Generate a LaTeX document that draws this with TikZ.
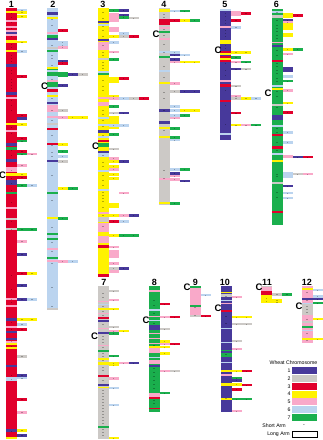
\documentclass[tikz,border=0pt]{standalone}
\usepackage{fontspec}
\setmainfont{Liberation Sans}
\definecolor{k1}{HTML}{47399B}
\definecolor{k2}{HTML}{CCC9C6}
\definecolor{k3}{HTML}{E1002C}
\definecolor{k4}{HTML}{FFF200}
\definecolor{k5}{HTML}{F9A9C9}
\definecolor{k6}{HTML}{BBD4EF}
\definecolor{k7}{HTML}{1AAF4D}
\tikzset{
  mk/.style={fill=black,fill opacity=0.28},
  lab/.style={font=\fontsize{9}{9}\selectfont\bfseries,inner sep=0pt},
  cen/.style={font=\fontsize{9.5}{9.5}\selectfont\bfseries,inner sep=0pt},
  leg/.style={font=\fontsize{5.2}{6}\selectfont,inner sep=0pt}
}
\def\chw{10.5}
\newcommand\cbd[3]{\fill[#3] (0,#1) rectangle (\chw,{#1+#2});}
\newcommand\csd[3]{\fill[#3] ({\chw+10*(#1-1)},#2) rectangle ({\chw+10*#1},{#2+2.5});
  \fill[mk] ({\chw+10*#1-5.8},{#2+1}) rectangle ({\chw+10*#1-4.2},{#2+1.6});}
\newcommand\csb[3]{\fill[#3] (\chw,#1) rectangle ({\chw+10},#2);}
\newcommand\ctk[1]{\fill[mk] ({\chw/2-0.8},#1) rectangle ({\chw/2+0.8},{#1+0.6});}
\newcommand\ctks[1]{\foreach \t in {#1}{\ctk{\t}}}
\begin{document}
\begin{tikzpicture}[x=1pt,y=-1pt]
\useasboundingbox (0,0) rectangle (323,440);
\fill[white] (0,0) rectangle (323,440);
% ---------------- chromosome 1
\begin{scope}[shift={(6,0)}]
\def\chw{11}
\fill[k3] (0,8) rectangle (\chw,439);
\csd{1}{8.5}{k6}
\cbd{11}{2}{k4}\csd{1}{11}{k4}
\csd{1}{15}{k4}
\cbd{20}{1.5}{k5}\cbd{26}{1.5}{k5}
\cbd{30}{2}{k5}\cbd{32}{2}{k1}\cbd{34}{1.5}{k5}
\cbd{40}{2.5}{k4}\csd{1}{40.5}{k4}
\cbd{50}{2}{k4}\csd{1}{50}{k6}
\cbd{64}{3}{k1}
\csd{1}{75}{k3}
\cbd{92}{3}{k1}\cbd{97}{1.5}{k5}
\csd{1}{114}{k3}\csb{116.5}{120}{k1}
\cbd{123}{2}{k4}\csd{1}{123}{k4}
\cbd{130}{1.5}{k5}
\csd{1}{137}{k3}\csd{1}{139.5}{k7}
\cbd{143}{3}{k1}\cbd{147}{2.5}{k7}
\csd{1}{150}{k3}\csd{1}{152.5}{k7}\csd{2}{152.5}{k5}
\cbd{159}{3}{k1}
\csd{1}{164}{k5}
\cbd{167}{5}{k5}
\cbd{173}{3}{k4}\csd{1}{173}{k4}
\cbd{176}{2.5}{k3}\csd{1}{176}{k3}
\cbd{180}{5}{k1}\csd{1}{184}{k7}\csd{2}{184}{k6}
\cbd{192}{2}{k7}
\cbd{207}{1.5}{k5}\cbd{218}{1.5}{k2}
\cbd{228}{2}{k2}\csd{1}{228}{k7}\csd{2}{228}{k7}
\csd{1}{240}{k5}\csd{1}{253}{k1}
\csd{1}{272}{k3}\csd{2}{272}{k4}
\csd{1}{284}{k1}
\cbd{298}{2}{k5}\csd{1}{298}{k1}\csd{2}{298}{k6}
\cbd{305}{1.5}{k5}
\cbd{318}{2.5}{k1}\csd{1}{318}{k4}\csd{2}{318}{k4}
\csd{1}{323}{k6}
\cbd{326}{1.5}{k5}\csd{1}{328}{k3}
\cbd{331}{2}{k1}
\cbd{338}{2}{k1}\cbd{341}{1.5}{k5}\cbd{343}{2}{k4}\cbd{347}{2}{k4}
\csd{1}{355}{k2}
\cbd{365}{2}{k1}
\csd{1}{374}{k1}\csd{1}{376.5}{k6}
\cbd{377}{4}{k6}
\csd{1}{398}{k3}\csd{1}{411}{k5}
\cbd{429}{2.5}{k1}\csd{1}{429}{k4}
\csd{1}{434}{k1}
\cbd{437}{2}{k4}
\ctks{13,17,22,28,36,44,47,55,58,61,70,73,79,82,85,88,100,105,110,127,133,150,155,170,178,183,190,202,221,229,275,289,299,302,322,329,341,346,375,379,431}
\end{scope}
\node[lab] (n1) at (11.5,4.5) {1};
\node[cen] (c1) at (2.5,175) {C};
% ---------------- chromosome 2
\begin{scope}[shift={(47,0)}]
\fill[k6] (0,8) rectangle (\chw,310);
\cbd{12}{3}{k1}\cbd{17}{1.5}{k4}
\csd{1}{29}{k3}
\cbd{32}{1.5}{k5}
\cbd{35}{2.5}{k7}\cbd{37.5}{2.5}{k1}
\csd{1}{41}{k6}\csd{1}{43.5}{k6}\csd{1}{46}{k5}
\cbd{47}{1.5}{k2}\cbd{50}{2}{k7}
\csd{1}{60}{k1}\csd{1}{62}{k3}
\cbd{67}{1.5}{k4}\cbd{68.5}{1.5}{k7}
\cbd{72}{4}{k7}\csb{72}{77}{k7}\csd{2}{73}{k1}\csd{3}{73}{k2}
\cbd{80}{1.5}{k5}
\cbd{82}{5}{k7}\csd{1}{84}{k1}
\cbd{89}{3}{k3}\cbd{95}{1.5}{k4}
\cbd{102}{2}{k1}
\cbd{105}{7}{k5}\csd{1}{109}{k2}
\cbd{116}{1.5}{k5}\csd{1}{116}{k5}\csd{2}{116}{k4}\csd{3}{116}{k4}
\cbd{123}{1.5}{k2}\cbd{128}{2}{k3}
\cbd{143}{2}{k3}\csd{1}{143}{k4}
\csd{1}{150}{k7}\csd{1}{155}{k6}
\cbd{160}{2}{k1}\csd{1}{160}{k2}
\csd{1}{187}{k4}\csd{2}{187}{k7}
\cbd{192}{2}{k7}
\cbd{217}{2}{k4}\csd{1}{217}{k7}
\cbd{233}{2}{k7}\cbd{238}{2}{k7}
\cbd{248}{2}{k5}\cbd{257}{2}{k7}
\cbd{260}{2}{k5}\csd{1}{260}{k5}\csd{2}{260}{k6}
\cbd{308}{2}{k2}
\ctks{19,25,45,55,58,65,79,98,110,120,135,145,152,156,175,200,227,242,251,263,287,306}
\end{scope}
\node[lab] (n2) at (53,4.5) {2};
\node[cen] (c2) at (44.5,86.5) {C};
% ---------------- chromosome 3
\begin{scope}[shift={(98,0)}]
\fill[k4] (0,8) rectangle (\chw,277);
\csd{1}{9}{k7}\csd{2}{9}{k1}
\csb{13}{22}{k5}\csd{2}{13.5}{k1}\csd{2}{16}{k7}\csd{3}{16.5}{k2}
\cbd{21}{2}{k1}\cbd{24}{1.5}{k6}
\csb{27}{32}{k5}\csd{2}{32}{k6}
\csd{1}{35}{k4}\csd{2}{35}{k2}\csd{3}{35}{k3}
\cbd{39}{2}{k1}
\cbd{42}{8}{k5}\csd{1}{41}{k6}
\csd{1}{50.5}{k5}
\cbd{58}{1.5}{k2}\csd{1}{58}{k7}
\cbd{71}{1.5}{k6}\cbd{73}{2}{k7}
\csb{77}{83}{k4}\csd{2}{77}{k3}
\csd{1}{95}{k4}
\cbd{97}{2}{k5}\csd{1}{97}{k5}\csd{2}{97}{k6}\csd{3}{97}{k2}\csd{4}{97}{k3}
\cbd{102}{3.5}{k5}\csd{1}{105}{k7}
\csd{1}{111.5}{k2}\csd{2}{111.5}{k1}
\csb{116}{129}{k4}
\cbd{117}{1.5}{k6}
\cbd{124}{1.5}{k6}\csd{1}{124}{k6}\csd{2}{124}{k6}
\cbd{130}{3}{k1}\csd{1}{133}{k7}
\cbd{136}{1.5}{k6}
\cbd{140}{2}{k3}\cbd{143}{4}{k7}
\csd{1}{147.5}{k2}
\cbd{151}{2}{k1}\cbd{153}{4}{k6}
\csd{1}{157}{k5}
\csd{1}{160}{k4}\csd{2}{160}{k1}
\csd{1}{165}{k4}\csd{1}{168}{k5}
\cbd{170}{1.5}{k6}
\csd{1}{173}{k4}\csd{1}{177}{k4}
\cbd{189}{1.5}{k6}\csd{2}{191.5}{k5}
\csb{203}{208}{k4}
\cbd{212}{2}{k5}
\csd{1}{214}{k4}\csd{2}{214}{k5}\csd{3}{214}{k1}
\cbd{217}{5}{k2}\csd{1}{220}{k3}\csd{2}{220}{k6}
\cbd{223}{9}{k5}
\cbd{234}{2}{k4}\csd{1}{234}{k4}\csd{2}{234}{k7}\csd{3}{234}{k7}
\cbd{236}{7}{k5}
\cbd{245}{2.5}{k3}\csd{1}{245.5}{k5}
\csb{250}{258}{k5}
\csd{1}{262}{k5}
\csd{1}{267}{k2}\csd{2}{267}{k1}
\csb{269.5}{273}{k5}
\cbd{274}{3}{k3}
\ctks{12,18,26,30,36,45,52,55,62,65,68,80,86,90,110,114,120,126,135,155,162,166,175,180,185,192,195,198,201,207,215,226}
\end{scope}
\node[lab] (n3) at (103,4.5) {3};
\node[cen] (c3) at (95.5,146.5) {C};
% ---------------- chromosome 4
\begin{scope}[shift={(159,0)}]
\fill[k2] (0,8) rectangle (\chw,205);
\cbd{9}{2.5}{k4}\csd{1}{9.5}{k6}\csd{2}{9.5}{k7}
\cbd{19}{6}{k3}\csd{1}{19}{k3}\csd{2}{19}{k4}\csd{3}{19}{k7}
\cbd{27}{1.5}{k5}\cbd{31}{2}{k7}\cbd{38}{1.5}{k5}
\cbd{51}{1.5}{k6}\csd{1}{51}{k6}
\csd{1}{53.5}{k1}\csd{2}{53.5}{k6}
\cbd{56}{2}{k7}
\csd{1}{58}{k1}\csd{1}{60.5}{k5}\csd{2}{60.5}{k4}\csd{3}{60.5}{k4}
\cbd{70}{1.5}{k6}
\cbd{82}{2}{k4}\csd{1}{82}{k5}
\csd{1}{90}{k2}\csd{2}{90}{k1}\csd{3}{90}{k1}
\csd{1}{105}{k6}
\cbd{109}{2.5}{k1}\csd{1}{109}{k6}\csd{2}{109}{k4}\csd{3}{109}{k4}
\csd{1}{114}{k6}\csd{2}{114}{k7}\csd{1}{116.5}{k5}
\cbd{121}{2.5}{k1}
\cbd{127}{2}{k4}\csd{1}{127}{k7}
\cbd{136}{2}{k4}\csd{1}{136}{k7}\csd{1}{138.5}{k6}
\csd{1}{168}{k6}\csd{2}{168}{k7}
\csd{1}{172}{k1}\csd{1}{174.5}{k5}
\cbd{178}{1.5}{k5}\csd{1}{178}{k5}\csd{2}{179.5}{k1}
\cbd{202}{2}{k4}\csd{1}{202}{k7}
\ctks{14,17,29,35,44,52,66,77,92,98,110,130,170,178}
\end{scope}
\node[lab] (n4) at (164,4.5) {4};
\node[cen] (c4) at (156,34) {C};
% ---------------- chromosome 5
\begin{scope}[shift={(220,0)}]
\def\chw{11}
\fill[k1] (0,9) rectangle (\chw,140);
\cbd{9}{2}{k6}
\csb{11}{16}{k5}\csd{2}{12}{k3}
\csd{1}{19}{k3}
\cbd{26}{1.5}{k5}\csd{1}{26}{k6}
\cbd{40}{1.5}{k4}\cbd{42}{1.5}{k4}
\cbd{51}{2}{k3}\csd{1}{51}{k4}\csd{2}{51}{k4}
\cbd{53}{1.5}{k4}
\cbd{55.5}{2}{k3}\csd{1}{56}{k7}
\cbd{58}{1.5}{k4}
\cbd{60}{2}{k3}\csd{1}{60.5}{k5}\csd{2}{60.5}{k7}
\csd{1}{67.5}{k1}\csd{2}{67.5}{k2}
\cbd{80}{1.5}{k5}
\cbd{84}{2.5}{k3}\csd{1}{84.5}{k2}
\csd{1}{94.5}{k5}\csd{1}{97}{k2}\csd{2}{97}{k4}\csd{3}{97}{k6}
\cbd{99.5}{2}{k3}
\csd{1}{111.5}{k3}
\csd{1}{123.5}{k4}\csd{2}{123.5}{k5}\csd{3}{123.5}{k7}
\cbd{133}{1.5}{k6}
\ctks{13,16,20,23,30,33,36,45,48,63,70,75,90,105,124}
\end{scope}
\node[lab] (n5) at (225,4.5) {5};
\node[cen] (c5) at (218,50.5) {C};
% ---------------- chromosome 6
\begin{scope}[shift={(272,0)}]
\fill[k7] (0,9) rectangle (\chw,225);
\cbd{11}{1.5}{k6}\cbd{15}{3}{k2}
\csb{13}{18}{k4}\csd{2}{14}{k3}
\csd{1}{19}{k1}\csd{1}{21}{k5}
\csb{23}{30}{k4}\csb{33}{37}{k4}
\cbd{41.5}{1.5}{k5}\cbd{44.5}{2}{k1}
\csd{1}{48}{k4}\csd{2}{48}{k7}
\csd{1}{52.5}{k5}
\cbd{60}{2}{k3}
\csb{67}{72}{k1}
\csb{75}{78}{k6}\csd{1}{79.5}{k7}
\cbd{85}{1.5}{k6}
\cbd{88}{1.5}{k4}\csd{1}{89}{k5}
\csd{1}{101.5}{k4}
\cbd{104}{1.5}{k2}
\csd{1}{111}{k3}
\cbd{115}{5}{k1}
\cbd{125}{1.5}{k6}
\csd{1}{131}{k6}
\cbd{133.5}{2}{k3}
\csd{1}{141}{k6}
\cbd{146}{2.5}{k3}
\cbd{153}{1.5}{k6}
\csb{155}{158}{k5}\csd{2}{155.5}{k1}\csd{3}{155.5}{k3}
\cbd{160}{1.5}{k4}
\csb{172}{178}{k6}\csd{2}{172.5}{k2}\csd{3}{172.5}{k5}
\cbd{182}{1.5}{k2}
\csd{1}{184.5}{k1}
\csd{1}{191.5}{k6}\csd{1}{196.5}{k6}
\cbd{211}{2}{k3}
\ctks{12,20,25,28,31,35,38,50,55,63,66,70,73,78,81,91,96,107,128,132,142,150,174,176,192,197}
\end{scope}
\node[lab] (n6) at (276.5,4.5) {6};
\node[cen] (c6) at (268,93.5) {C};
% ---------------- chromosome 7
\begin{scope}[shift={(98,0)}]
\fill[k2] (0,286) rectangle (\chw,439);
\csd{1}{289.5}{k2}
\csd{1}{298.5}{k5}\cbd{300.5}{1.5}{k5}
\cbd{303.5}{1.5}{k6}
\cbd{307.5}{2}{k4}\csd{1}{307.5}{k4}
\cbd{312.5}{1.5}{k5}
\cbd{317}{2}{k3}\cbd{319.5}{2.5}{k1}
\csd{1}{325.5}{k2}
\cbd{327.5}{1.5}{k5}
\csd{1}{329.5}{k5}\csd{2}{329.5}{k4}
\cbd{331.5}{2}{k1}\csd{1}{332}{k7}
\cbd{344.5}{1.5}{k5}
\cbd{349.5}{2}{k7}
\csd{1}{354.5}{k7}
\cbd{357.5}{2}{k4}
\cbd{361.5}{3.5}{k4}\csd{1}{361.5}{k4}\csd{1}{363.5}{k4}\csd{2}{361.5}{k5}\csd{3}{361.5}{k1}
\cbd{374.5}{2}{k3}
\csd{1}{377}{k5}
\cbd{384}{2}{k1}\cbd{386.5}{1.5}{k4}\csd{1}{386.5}{k6}
\csd{1}{403.5}{k6}
\cbd{425.5}{2}{k7}
\csd{1}{436.5}{k4}
\ctks{293,297,306,311,315,324,336,339,342,347,353,356,360,367,370,380,390,393,396,399,402,405,408,411,414,417,420,423,429,432,435}
\end{scope}
\node[lab] (n7) at (104,282.5) {7};
\node[cen] (c7) at (94.5,336.5) {C};
% ---------------- chromosome 8
\begin{scope}[shift={(149,0)}]
\fill[k7] (0,286) rectangle (\chw,412);
\cbd{289.5}{2}{k5}
\csd{1}{302.5}{k3}
\cbd{309}{2}{k6}
\cbd{315.5}{1.5}{k5}\csd{1}{315.5}{k5}\csd{2}{315.5}{k3}
\cbd{319.5}{1.5}{k6}
\cbd{324.5}{5.5}{k1}\csd{1}{327.5}{k2}
\cbd{332.5}{1.5}{k5}\cbd{337.5}{1.5}{k5}
\csd{1}{340}{k4}
\cbd{342.5}{1.5}{k5}\csd{1}{342.5}{k5}\csd{2}{342.5}{k3}
\cbd{345.5}{2}{k4}\csd{1}{345.5}{k4}
\cbd{348}{5}{k5}\csd{1}{352}{k4}
\cbd{356.5}{1.5}{k6}
\cbd{359.5}{4}{k5}
\cbd{364.5}{2}{k1}
\csd{1}{369.5}{k5}\csd{2}{369.5}{k2}
\csd{1}{391.5}{k7}
\cbd{392.5}{4}{k5}\cbd{396.5}{2}{k3}
\cbd{407.5}{1.5}{k3}
\ctks{300,305,313,323,345,368,372,376,380,384,388,400,403}
\end{scope}
\node[lab] (n8) at (154.5,282.5) {8};
\node[cen] (c8) at (146,320) {C};
% ---------------- chromosome 9
\begin{scope}[shift={(190,0)}]
\fill[k5] (0,286) rectangle (\chw,317);
\cbd{286}{2}{k7}
\csd{1}{293.5}{k6}
\cbd{305}{2}{k7}
\cbd{314.5}{2.5}{k2}\csd{1}{314.5}{k3}
\ctks{307,315}
\end{scope}
\node[lab] (n9) at (195.5,282.5) {9};
\node[cen] (c9) at (187,287) {C};
% ---------------- chromosome 10
\begin{scope}[shift={(221,0)}]
\fill[k1] (0,286) rectangle (\chw,412);
\cbd{291.5}{1.5}{k4}
\cbd{294}{3}{k2}\csd{1}{295.5}{k5}
\cbd{299.5}{1.5}{k6}\cbd{302.5}{1.5}{k5}
\cbd{309.5}{2}{k3}
\csd{1}{315.5}{k4}\csd{2}{315.5}{k4}
\csd{1}{322.5}{k2}\csd{2}{322.5}{k2}
\cbd{327.5}{1.5}{k6}
\csd{1}{339.5}{k2}
\cbd{341.5}{1.5}{k6}
\csd{1}{347.5}{k5}
\cbd{349.5}{1.5}{k7}\cbd{352.5}{4}{k7}
\cbd{361.5}{1.5}{k6}
\cbd{369.5}{2}{k4}\csd{1}{369.5}{k4}\csd{2}{369.5}{k3}
\cbd{373.5}{2}{k5}
\csd{1}{376.5}{k7}\csd{1}{379}{k1}
\cbd{382.5}{3}{k4}\csd{1}{383}{k4}\csd{2}{383.5}{k3}
\csd{1}{388}{k3}
\cbd{397.5}{2}{k4}\csd{1}{397.5}{k7}\csd{2}{397.5}{k7}
\csd{1}{409.5}{k5}
\ctks{296,316,323,354,398}
\end{scope}
\node[lab] (n10) at (225,282.5) {10};
\node[cen] (c10) at (218,308.5) {C};
% ---------------- chromosome 11
\begin{scope}[shift={(261,0)}]
\def\chw{11}
\fill[k4] (0,286) rectangle (\chw,303);
\cbd{286}{1.2}{k2}\cbd{287.2}{3.8}{k5}\cbd{291}{4}{k3}
\csd{1}{293}{k2}\csd{2}{293}{k7}
\csd{1}{298.5}{k4}\csd{1}{300.5}{k4}
\ctks{298,301}
\end{scope}
\node[lab] (n11) at (267,282.5) {11};
\node[cen] (c11) at (259,287) {C};
% ---------------- chromosome 12
\begin{scope}[shift={(302,0)}]
\fill[k5] (0,286) rectangle (\chw,343);
\cbd{288}{2}{k4}\csd{1}{288.5}{k6}
\csd{1}{295}{k6}
\cbd{297.5}{2}{k1}\csd{1}{297.5}{k1}
\csd{1}{301.5}{k7}
\cbd{302.5}{1.5}{k6}
\cbd{304}{11}{k2}
\csd{1}{317.5}{k4}
\cbd{321}{1.5}{k2}\cbd{325.5}{2}{k7}\cbd{329.5}{1.5}{k6}
\cbd{337.5}{2}{k4}\csd{1}{337.5}{k4}
\ctks{292,300,306,309,312,319,333,340}
\end{scope}
\node[lab] (n12) at (307,282.5) {12};
\node[cen] (c12) at (299,306.5) {C};
% ---------------- legend
\node[leg,anchor=east] (lt) at (317.5,363) {Wheat Chromosome};
\foreach \i/\c in {1/k1,2/k2,3/k3,4/k4,5/k5,6/k6,7/k7}{
  \fill[\c] (292,{359.5+7.75*\i}) rectangle (317,{366.5+7.75*\i});
  \node[leg] (g\i) at (289,{363+7.75*\i}) {\i};
}
\node[leg,anchor=east] (sa) at (286,426) {Short Arm};
\node[leg] (sd) at (304,425.6) {-};
\node[leg,anchor=east] (la) at (290,434) {Long Arm};
\draw[line width=0.5pt] (292,431) rectangle (317,437.5);
\end{tikzpicture}
\end{document}
